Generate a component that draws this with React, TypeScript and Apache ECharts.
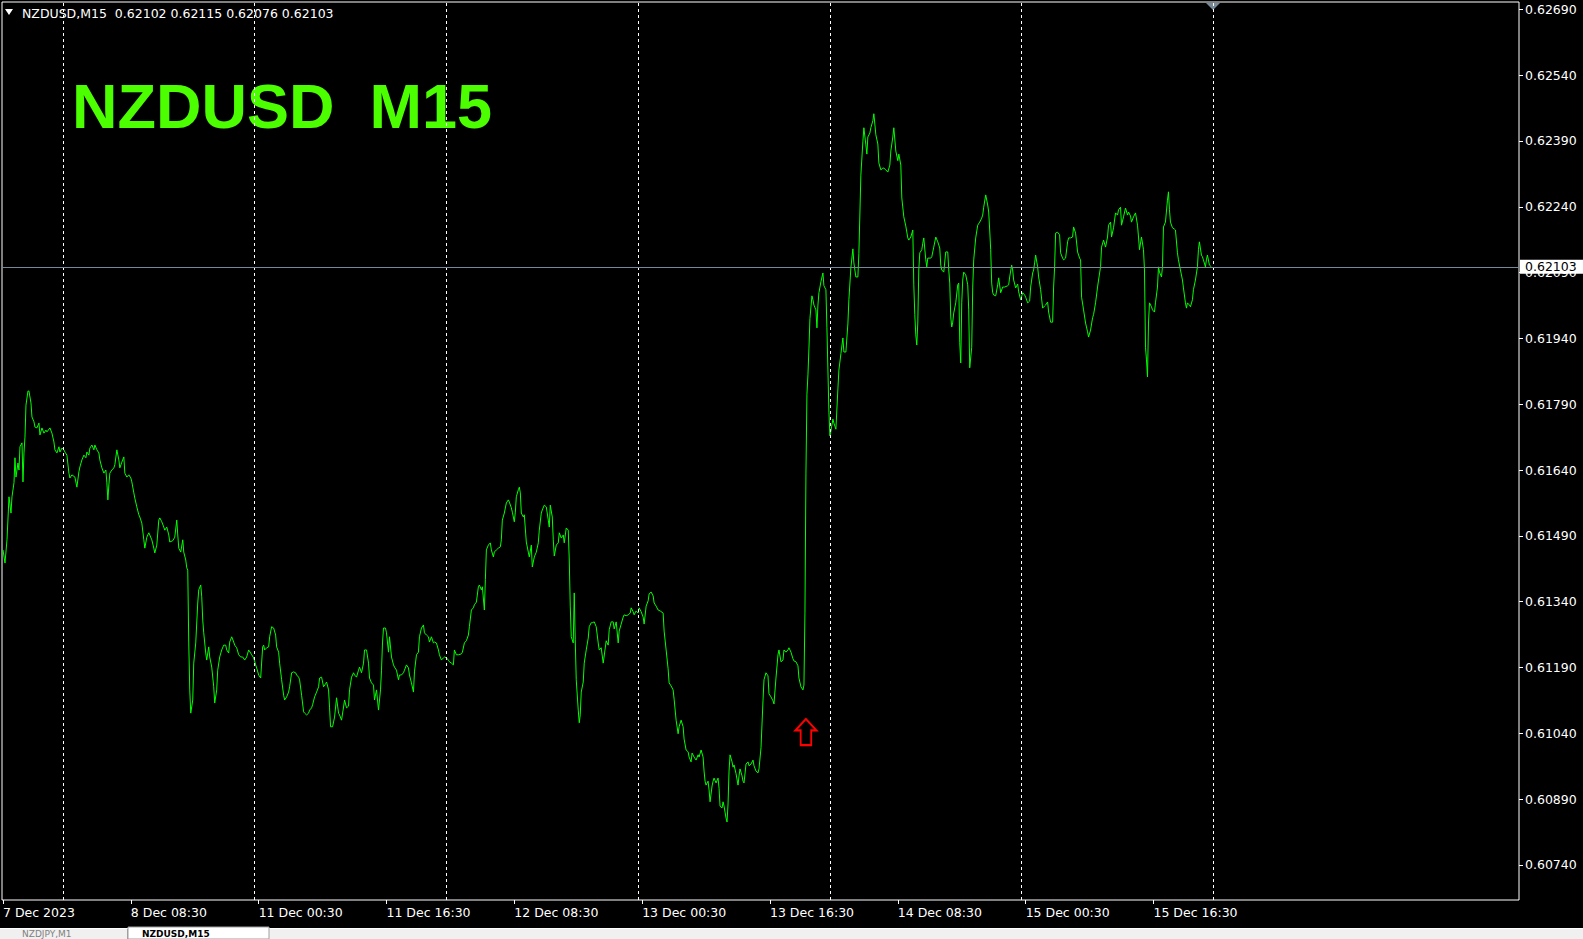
import React, { useEffect, useRef } from "react";
import * as echarts from "echarts";

const symbolName = "NZDUSD";
const periodName = "M15";
const headerOhlc = ["0.62102", "0.62115", "0.62076", "0.62103"];
const currentPrice = 0.62103;
const yTickValues = [0.6074, 0.6089, 0.6104, 0.6119, 0.6134, 0.6149, 0.6164, 0.6179, 0.6194, 0.6209, 0.6224, 0.6239, 0.6254, 0.6269];
const xTickIndex = [0, 64, 128, 192, 256, 320, 384, 448, 512, 576];
const xTickLabels = ["7 Dec 2023", "8 Dec 08:30", "11 Dec 00:30", "11 Dec 16:30", "12 Dec 08:30", "13 Dec 00:30", "13 Dec 16:30", "14 Dec 08:30", "15 Dec 00:30", "15 Dec 16:30"];
const daySeparatorIndex = [30, 126, 222, 318, 414, 510, 606];
const signalIndex = 402;
const signalPrice = 0.61043;
const tabNames = ["NZDJPY,M1", "NZDUSD,M15"];

// [bar index from 7 Dec 16:30, close price]
const closeDec7to11: [number, number][] = [
  [0,0.61458],[1,0.61428],[2,0.61481],[3,0.61579],[4,0.61542],[4.5,0.61579],[5.5,0.61611],[6,0.61668],[6.5,0.61624],[7.5,0.61656],[8,0.6164],[8.5,0.61693],[9.5,0.61702],[10,0.61613],[10.5,0.61679],[11,0.61715],[11.5,0.61788],[12.5,0.6182],[13,0.6182],[14,0.61793],[14.5,0.61761],[15.5,0.6175],[16,0.61738],[17,0.61736],[18,0.61747],[18.5,0.6172],[19.5,0.61736],[20.5,0.61724],[21.5,0.61731],[22,0.61727],[23.5,0.61736],[24.5,0.61724],[25.5,0.61704],[26,0.61686],[27,0.61679],[28,0.61693],[28.5,0.61681],[29.5,0.6169],[30.5,0.61686],[31,0.61681],[32,0.61674],[33,0.61633],[33.5,0.61622],[34.5,0.61629],[36,0.61624],[37,0.61601],[38,0.61636],[38.5,0.61647],[39.5,0.61663],[40.5,0.61674],[41.5,0.61668],[42,0.61681],[43,0.61674],[43.5,0.6169],[44.5,0.61697],[45.5,0.61686],[46,0.61697],[47,0.61686],[48,0.61679],[48.5,0.61663],[49.5,0.61645],[50.5,0.61633],[51.5,0.6164],[52,0.61611],[52.5,0.61572],[53,0.61606],[53.5,0.61633],[54.5,0.6164],[55.5,0.61645],[56,0.61652],[57,0.61686],[58,0.61663],[58.5,0.61645],[59.5,0.61658],[60.5,0.6167],[61,0.61633],[62,0.61624],[63,0.61629],[64,0.61622],[64.5,0.61613],[65.5,0.61588],[66,0.61576],[67,0.61556],[68,0.61538],[68.5,0.61533],[69.5,0.61519],[70.5,0.61481],[71,0.61462],[72,0.61487],[73,0.61497],[73.5,0.61492],[74.5,0.61481],[75.5,0.61462],[76,0.61451],[77,0.61469],[78,0.61526],[78.5,0.61531],[79.5,0.61522],[80.5,0.6151],[81,0.61503],[82,0.6151],[83,0.61492],[83.5,0.61476],[85,0.61479],[86,0.61487],[87,0.61526],[87.5,0.61492],[88,0.61462],[89,0.61453],[90,0.61481],[90.5,0.61453],[91.5,0.61435],[92,0.61417],[92.5,0.61412],[93,0.61246],[93.5,0.61139],[94,0.61086],[95,0.61116],[95.5,0.612],[96.5,0.61246],[97.5,0.61337],[98,0.61367],[99,0.61378],[99.5,0.61351],[100,0.61298],[100.5,0.61269],[101.5,0.61223],[102,0.61207],[103,0.61237],[103.5,0.61214],[104.5,0.61191],[105.5,0.61146],[106,0.61109],[107,0.61139],[107.5,0.61184],[108.5,0.61214],[109.5,0.6123],[110.5,0.61241],[111.5,0.61241],[112,0.6123],[113,0.61223],[113.5,0.61248],[114.5,0.6126],[115.5,0.61248],[116,0.61241],[117,0.61235],[118,0.61219],[119,0.61214],[120,0.61214],[121,0.61207],[122,0.61214],[123,0.6123],[124,0.61223],[124.5,0.61219],[125.5,0.61212],[126.5,0.61196],[127,0.61189],[128,0.61173],[129,0.61166],[130,0.61237],[130.5,0.61241],[131,0.6123],[132,0.61235],[133,0.61237],[133.5,0.6126],[134.5,0.61283],[135.5,0.6128],[136.5,0.61264],[137,0.61237],[138,0.61225],[138.5,0.612],[139.5,0.61162],[140.5,0.61127],[141,0.61116],[142,0.61123],[143,0.61134],[143.5,0.61146],[144.5,0.61178],[145.5,0.6118],[146.5,0.61178],[147,0.61173],[148,0.61168],[148.5,0.61162],[149.5,0.61127],[150.5,0.61089],[151,0.61086],[152,0.61082],[153,0.61086],[153.5,0.61093]
];
const closeDec11to12: [number, number][] = [
  [154.5,0.61098],[155,0.61105],[156,0.61123],[157,0.61134],[158,0.61146],[158.5,0.61166],[159.5,0.61168],[160.5,0.61146],[161.5,0.61153],[162,0.61157],[163,0.61139],[163.5,0.61098],[164,0.61055],[165,0.61055],[166,0.61077],[167,0.61121],[168,0.61086],[168.5,0.61082],[169.5,0.6107],[170.5,0.611],[171,0.61116],[172,0.61098],[173,0.61102],[173.5,0.61139],[174.5,0.61168],[175.5,0.61178],[176,0.61173],[177,0.61168],[178,0.61184],[178.5,0.61191],[179.5,0.61178],[180.5,0.612],[181,0.6123],[182,0.6123],[183,0.612],[183.5,0.61166],[184.5,0.61155],[185.5,0.6115],[186,0.61116],[187,0.61139],[187.5,0.61116],[188,0.61093],[189,0.61139],[189.5,0.61184],[190,0.61246],[190.5,0.6128],[191.5,0.6128],[192,0.61269],[193,0.61225],[193.5,0.6126],[194.5,0.61214],[195.5,0.61196],[196,0.61191],[197,0.61184],[198,0.61162],[198.5,0.61173],[199.5,0.61173],[200.5,0.61178],[201,0.61184],[202,0.61196],[203,0.61189],[203.5,0.61173],[204.5,0.61155],[205.5,0.61134],[206,0.6118],[207,0.61219],[208,0.61225],[208.5,0.6126],[209.5,0.6128],[210.5,0.61287],[211,0.61269],[212,0.61264],[213,0.6126],[213.5,0.61248],[214.5,0.6126],[215.5,0.61246],[216,0.61248],[217,0.61246],[218,0.6123],[218.5,0.61219],[219.5,0.61207],[220.5,0.61212],[221,0.61214],[222,0.61212],[223,0.61207],[223.5,0.61203],[224.5,0.612],[225.5,0.61196],[226,0.6123],[227,0.61219],[228,0.61219],[229.5,0.61221],[230,0.61225],[231,0.61246],[232,0.61251],[233,0.61264],[233.5,0.61283],[234.5,0.61321],[235.5,0.61326],[236,0.61333],[237,0.61339],[238,0.61374],[238.5,0.61378],[239.5,0.61367],[240,0.61374],[241,0.61321],[241.5,0.6139],[242,0.61458],[243,0.61469],[244,0.61474],[244.5,0.61458],[245.5,0.61442],[246,0.61453],[247,0.61458],[248,0.61462],[249,0.61465],[249.5,0.61481],[250,0.61526],[251,0.61542],[252,0.61565],[253,0.61572],[253.5,0.61567],[254.5,0.61554],[255,0.61544],[256,0.61522],[256.5,0.61544],[257,0.61579],[258,0.61595],[258.5,0.61601],[259,0.61588],[259.5,0.61542],[260.5,0.61533],[261,0.61538],[262,0.61476],[263,0.61453],[263.5,0.61442],[264.5,0.61469],[265,0.61419],[266,0.61442],[267,0.61453],[268,0.61474],[268.5,0.61503],[269.5,0.61542],[270,0.61549],[271,0.6156],[272,0.61556],[273,0.61526],[273.5,0.6151],[274,0.6156],[275,0.61533],[275.5,0.61481],[276,0.61444],[277,0.61469],[278,0.61474],[278.5,0.61497],[279.5,0.61485],[280.5,0.61492],[281,0.61474],[282,0.61508],[283,0.61503],[283.5,0.61435],[284,0.6133],[284.5,0.6126],[285.5,0.61246],[286,0.6136],[286.5,0.61253],[287,0.61162],[288,0.61093],[288.5,0.61064],[289,0.61082],[289.5,0.61134],[290.5,0.61157],[291,0.612],[292,0.6123],[293,0.61257],[293.5,0.61283],[294.5,0.61292],[295,0.61292],[296,0.61294],[297,0.61283],[298,0.61246],[298.5,0.6123],[299.5,0.61235],[300.5,0.612]
];
const closeDec13to14: [number, number][] = [
  [302,0.61251],[303,0.61241],[303.5,0.61276],[304.5,0.61294],[305.5,0.61294],[306,0.61278],[307,0.61294],[308,0.61246],[308.5,0.61273],[309.5,0.61289],[310.5,0.61305],[311,0.6131],[312,0.61308],[313,0.6131],[314,0.61314],[314.5,0.61326],[315.5,0.61317],[316,0.6131],[317,0.61319],[318,0.61314],[318.5,0.61326],[319.5,0.61317],[320.5,0.61305],[321,0.61289],[322,0.6133],[323,0.61342],[323.5,0.61358],[324.5,0.61362],[325.5,0.61353],[326,0.61337],[327,0.6133],[328,0.61321],[329,0.61319],[330.5,0.61314],[331,0.61273],[332,0.6123],[333,0.61187],[333.5,0.61155],[334.5,0.61148],[335.5,0.61139],[336,0.61118],[337,0.6107],[338,0.61039],[338.5,0.61055],[339.5,0.6107],[340.5,0.61055],[341,0.61027],[342,0.61002],[343,0.60998],[343.5,0.60986],[344.5,0.60975],[345,0.60995],[346,0.60986],[347,0.60979],[348,0.60991],[348.5,0.60986],[349.5,0.61002],[350.5,0.60986],[351,0.60954],[351.5,0.60931],[352,0.60922],[353,0.60931],[353.5,0.60911],[354,0.60884],[355,0.6092],[355.5,0.60931],[356,0.60938],[357,0.60927],[358,0.60938],[358.5,0.60915],[359,0.60874],[360,0.6087],[360.5,0.60884],[361,0.60874],[362,0.60847],[362.5,0.60838],[363,0.60879],[363.5,0.60954],[364,0.60991],[365,0.60975],[365.5,0.60963],[366,0.60968],[367,0.60948],[368,0.60922],[368.5,0.60943],[369,0.60959],[370,0.60943],[370.5,0.60931],[371,0.60927],[372,0.6097],[373,0.60975],[373.5,0.60966],[374.5,0.6097],[375.5,0.60979],[376,0.60966],[377,0.60954],[378,0.6095],[378.5,0.60959],[379.5,0.61007],[380.5,0.61114],[381,0.61162],[382,0.61178],[383,0.61171],[383.5,0.6113],[384.5,0.61123],[385.5,0.61114],[386,0.61107],[387,0.61166],[388,0.61219],[388.5,0.6123],[389.5,0.61203],[390.5,0.61207],[391,0.6123],[392,0.61225],[393,0.6123],[393.5,0.61235],[394.5,0.61225],[395.5,0.6121],[396,0.61205],[397,0.61203],[398,0.61194],[398.5,0.61166],[399.5,0.61146],[400.5,0.61139],[401,0.6115],[401.5,0.61314],[402,0.61633],[402.5,0.61813],[403,0.61857],[403.5,0.61916],[404,0.61985],[405,0.62037],[405.5,0.62028],[406,0.62016],[407,0.62005],[407.5,0.61964],[408,0.62016],[408.5,0.62044],[409.5,0.62069],[410.5,0.62089],[411,0.6206],[412,0.62051],[412.5,0.61964],[413,0.61868],[413.5,0.61772],[414,0.61718],[414.5,0.61729],[415.5,0.61756],[416,0.61747],[417,0.61733],[418,0.61825],[418.5,0.61868],[419.5,0.61905],[420.5,0.61941],[421,0.61909],[422,0.61909],[423,0.61973],[423.5,0.62028],[424.5,0.62101],[425.5,0.62144],[426,0.62112],[427,0.6208],[428,0.6208],[428.5,0.62133],[429.5,0.62312],[430.5,0.62388],[431,0.6242],[432,0.62381],[432.5,0.6236],[433,0.62399],[434,0.62408],[434.5,0.6242],[435.5,0.62436],[436,0.62452],[437,0.62404],[438,0.62383],[438.5,0.6234],[439.5,0.62324],[440.5,0.62328],[441,0.62328],[442,0.62324],[443,0.62319],[444,0.62335],[444.5,0.62367],[445.5,0.62399],[446,0.6242],[447,0.62367],[448,0.62345],[448.5,0.6236],[449.5,0.62335],[450,0.6226],[451,0.62217],[452,0.62196],[453,0.62169],[453.5,0.62164],[454.5,0.62171]
];
const closeDec14to15: [number, number][] = [
  [455.5,0.62187],[456,0.62062],[456.5,0.61994],[457,0.61948],[457.5,0.61925],[458,0.61975],[458.5,0.62096],[459,0.62135],[460,0.62142],[460.5,0.62157],[461,0.62169],[462,0.62119],[462.5,0.62103],[463,0.62123],[464.5,0.62123],[465,0.62126],[466,0.62148],[467,0.62171],[468,0.6216],[469,0.62146],[469.5,0.62107],[470,0.62096],[471,0.62091],[472,0.62137],[473,0.62137],[473.5,0.62096],[474,0.62066],[474.5,0.61989],[475,0.61966],[475.5,0.61977],[476,0.61998],[477,0.62021],[478,0.62062],[478.5,0.62066],[479,0.6193],[479.5,0.61884],[480,0.62021],[480.5,0.62073],[481,0.62091],[482,0.62085],[483,0.62062],[483.5,0.62005],[484,0.61873],[485,0.6192],[485.5,0.62057],[486,0.62119],[487,0.62169],[488,0.62198],[489,0.62205],[490,0.62214],[490.5,0.62221],[491,0.62239],[492,0.62267],[493,0.62244],[493.5,0.62228],[494,0.62187],[494.5,0.62142],[495,0.62066],[495.5,0.62044],[496,0.62039],[497,0.62037],[498,0.62062],[498.5,0.62078],[499.5,0.62044],[500.5,0.62057],[501.5,0.62057],[503,0.6206],[503.5,0.62062],[504,0.6208],[505,0.62107],[505.5,0.62096],[506,0.62073],[507,0.62055],[508,0.62064],[508.5,0.62046],[509.5,0.62028],[510.5,0.62044],[511.5,0.62039],[512,0.62034],[513,0.62021],[514,0.62025],[514.5,0.62057],[515.5,0.62089],[516,0.62096],[516.5,0.62112],[517,0.6213],[518,0.62103],[518.5,0.6208],[519.5,0.62051],[520.5,0.62009],[521.5,0.62014],[522,0.62016],[523,0.62023],[523.5,0.62],[524.5,0.61977],[525.5,0.61977],[526,0.62057],[526.5,0.62103],[527,0.6218],[528,0.62182],[529,0.62176],[529.5,0.62135],[530.5,0.62123],[531,0.62119],[532,0.62123],[533,0.6216],[533.5,0.62169],[534.5,0.62169],[535.5,0.62171],[536,0.62194],[537,0.6218],[538,0.62137],[539,0.62123],[539.5,0.62119],[540,0.62034],[541,0.62005],[542,0.61975],[543,0.61955],[543.5,0.61943],[544.5,0.61959],[545.5,0.61987],[546,0.61994],[547,0.62021],[548,0.62057],[548.5,0.62073],[549.5,0.62103],[550,0.62148],[551,0.62164],[552,0.62148],[553,0.62171],[553.5,0.62198],[554.5,0.62205],[555,0.62171],[556,0.62192],[557,0.62226],[558,0.62221],[558.5,0.62233],[559.5,0.62239],[560,0.62198],[561,0.62217],[562,0.62237],[563,0.62221],[563.5,0.62228],[564.5,0.62219],[565,0.62205],[566,0.62217],[567,0.62226],[568,0.62198],[568.5,0.62171],[569,0.62142],[570,0.62171],[571,0.62142],[571.5,0.62096],[572,0.6192],[572.5,0.61891],[573,0.61852],[573.5,0.61975],[574,0.62021],[575,0.62012],[575.5,0.62005],[576.5,0.62],[577,0.62021],[578,0.62057],[578.5,0.62103],[579,0.62091],[580,0.6208],[580.5,0.62103],[581,0.62194],[582,0.62205],[583,0.62255],[583.5,0.62274],[584,0.62233],[584.5,0.62205],[585.5,0.62192],[586.5,0.62189],[587,0.62187],[588,0.62135],[588.5,0.62119],[589.5,0.62096],[590.5,0.62073],[591,0.62055],[592,0.62021],[592.5,0.62009],[593,0.62021],[594,0.62016],[594.5,0.62012],[595.5,0.62028],[596,0.62051],[597,0.62073],[598,0.62103],[598.5,0.62142],[599,0.6216],[600,0.6213],[600.5,0.62126],[601,0.62119],[602,0.62103],[602.5,0.62119],[603,0.6213],[604,0.62107],[605,0.62103]
];

const FONT = "DejaVu Sans";
const X_MIN = -0.5;
const X_MAX = 759;

export default function App() {
  const ref = useRef<HTMLDivElement>(null);
  useEffect(() => {
    document.body.style.margin = "0";
    document.body.style.background = "#000";
    if (!ref.current) return;
    const chart = echarts.init(ref.current, null, { renderer: "svg" });
    const closes = [...closeDec7to11, ...closeDec11to12, ...closeDec13to14, ...closeDec14to15];
    const labelMap: Record<number, string> = {};
    xTickIndex.forEach((v, k) => (labelMap[v] = xTickLabels[k]));

    chart.setOption({
      animation: false,
      backgroundColor: "#000",
      grid: { left: 0, top: 2, right: 64, bottom: 39, show: true, borderColor: "#ffffff", borderWidth: 1, backgroundColor: "#000" },
      xAxis: {
        type: "value",
        min: X_MIN,
        max: X_MAX,
        axisLine: { show: false, onZero: false },
        splitLine: { show: false },
        axisTick: { show: true, customValues: xTickIndex, length: 4, lineStyle: { color: "#ffffff" } },
        axisLabel: {
          customValues: xTickIndex,
          formatter: (v: number) => labelMap[Math.round(v)] ?? "",
          color: "#ffffff",
          fontFamily: FONT,
          fontSize: 12.5,
          align: "left",
          margin: 6,
        },
      },
      yAxis: {
        type: "value",
        position: "right",
        min: 0.606602,
        max: 0.627066,
        axisLine: { show: false, onZero: false },
        splitLine: { show: false },
        axisTick: { show: true, customValues: yTickValues, length: 4, lineStyle: { color: "#ffffff" } },
        axisLabel: {
          customValues: yTickValues,
          formatter: (v: number) => v.toFixed(5),
          color: "#ffffff",
          fontFamily: FONT,
          fontSize: 12.5,
          margin: 6,
        },
      },
      series: [
        {
          type: "line",
          data: closes,
          showSymbol: false,
          symbol: "none",
          lineStyle: { color: "#00ff00", width: 1 },
          clip: true,
          z: 3,
          markLine: {
            silent: true,
            symbol: "none",
            animation: false,
            data: [
              ...daySeparatorIndex.map((i) => [
                { coord: [i, 0.606602], lineStyle: { color: "#ffffff", type: [3, 3], width: 1 }, label: { show: false } },
                { coord: [i, 0.627066] },
              ]),
              [
                {
                  coord: [X_MIN, currentPrice],
                  lineStyle: { color: "#778899", type: "solid", width: 1 },
                  label: {
                    show: true,
                    position: "end",
                    formatter: currentPrice.toFixed(5),
                    color: "#000000",
                    backgroundColor: "#ffffff",
                    fontFamily: FONT,
                    fontSize: 12.5,
                    padding: [1, 10, 0, 5],
                    distance: 1,
                  },
                },
                { coord: [X_MAX, currentPrice] },
              ],
            ],
          },
          markPoint: {
            silent: true,
            symbol: "path://M10,0 L20,11 L15,11 L15,25 L5,25 L5,11 L0,11 Z",
            symbolSize: [21, 26],
            itemStyle: { color: "rgba(0,0,0,0)", borderColor: "#ff0000", borderWidth: 2 },
            label: { show: false },
            data: [{ coord: [signalIndex, signalPrice] }],
          },
        },
      ],
      graphic: [
        { type: "polygon", shape: { points: [[5, 9], [13, 9], [9, 15]] }, style: { fill: "#ffffff" } },
        {
          type: "text",
          x: 22,
          y: 7,
          style: {
            text: `${symbolName},${periodName}  ${headerOhlc.join(" ")}`,
            fill: "#ffffff",
            font: `12.5px "${FONT}"`,
          },
        },
        {
          type: "text",
          x: 72,
          y: 74,
          style: {
            text: `${symbolName}  ${periodName}`,
            fill: "#4cff00",
            font: `bold 63px "Liberation Sans"`,
          },
        },
        { type: "polygon", shape: { points: [[1206, 3], [1220, 3], [1213, 10]] }, style: { fill: "#778899" } },
        { type: "rect", shape: { x: 0, y: 928, width: 1583, height: 11 }, style: { fill: "#f0f0f0" } },
        { type: "line", shape: { x1: 0, y1: 928.5, x2: 1583, y2: 928.5 }, style: { stroke: "#ffffff", lineWidth: 1 } },
        { type: "rect", shape: { x: 128, y: 927, width: 141, height: 12 }, style: { fill: "#ffffff", stroke: "#a0a0a0", lineWidth: 1 } },
        { type: "line", shape: { x1: 127.5, y1: 929, x2: 127.5, y2: 939 }, style: { stroke: "#a0a0a0", lineWidth: 1 } },
        {
          type: "text",
          x: 22,
          y: 929,
          style: { text: tabNames[0], fill: "#808080", font: `9px "${FONT}"` },
        },
        {
          type: "text",
          x: 142,
          y: 929,
          style: { text: tabNames[1], fill: "#000000", font: `bold 9px "${FONT}"` },
        },
      ],
    });
    return () => chart.dispose();
  }, []);
  return <div ref={ref} style={{ width: 1583, height: 939, overflow: "hidden" }} />;
}
